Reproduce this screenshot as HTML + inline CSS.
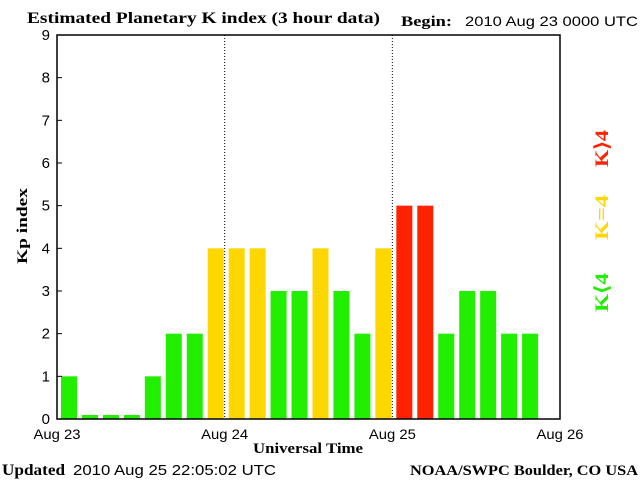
<!DOCTYPE html>
<html><head><meta charset="utf-8"><style>
html,body{margin:0;padding:0;background:#fff;}
svg{display:block;}
</style></head><body>
<svg id="chart" width="640" height="480" xmlns="http://www.w3.org/2000/svg">
<rect width="640" height="480" fill="#fff"/>
<text x="27" y="23" textLength="353" lengthAdjust="spacingAndGlyphs" font-family="Liberation Serif, serif" font-weight="bold" font-size="16">Estimated Planetary K index (3 hour data)</text>
<text x="401" y="26" textLength="51" lengthAdjust="spacingAndGlyphs" font-family="Liberation Serif, serif" font-weight="bold" font-size="15">Begin:</text>
<text x="465" y="26" textLength="173" lengthAdjust="spacingAndGlyphs" font-family="Liberation Sans, sans-serif" font-size="14">2010 Aug 23 0000 UTC</text>
<g id="bars"></g>
<g id="axes"></g>
<text transform="translate(27,226) rotate(-90)" text-anchor="middle" textLength="76" lengthAdjust="spacingAndGlyphs" font-family="Liberation Serif, serif" font-weight="bold" font-size="15">Kp index</text>
<text x="308" y="453" text-anchor="middle" textLength="110" lengthAdjust="spacingAndGlyphs" font-family="Liberation Serif, serif" font-weight="bold" font-size="15">Universal Time</text>
<text x="2" y="475" textLength="63" lengthAdjust="spacingAndGlyphs" font-family="Liberation Serif, serif" font-weight="bold" font-size="16">Updated</text>
<text x="73" y="475" textLength="203" lengthAdjust="spacingAndGlyphs" font-family="Liberation Sans, sans-serif" font-size="15">2010 Aug 25 22:05:02 UTC</text>
<text x="410" y="475" textLength="228" lengthAdjust="spacingAndGlyphs" font-family="Liberation Serif, serif" font-weight="bold" font-size="15">NOAA/SWPC Boulder, CO USA</text>
<text transform="translate(608,167) rotate(-90)" textLength="37" lengthAdjust="spacingAndGlyphs" fill="#ff2200" font-family="Liberation Serif, serif" font-weight="bold" font-size="19">K⟩4</text>
<text transform="translate(608,240) rotate(-90)" textLength="45" lengthAdjust="spacingAndGlyphs" fill="#ffd700" font-family="Liberation Serif, serif" font-weight="bold" font-size="19">K=4</text>
<text transform="translate(608,312) rotate(-90)" textLength="39" lengthAdjust="spacingAndGlyphs" fill="#22ee00" font-family="Liberation Serif, serif" font-weight="bold" font-size="19">K⟨4</text>
</svg>
<script>
const kpValues = [1,0,0,0,1,2,2,4, 4,4,3,3,4,3,2,4, 5,5,2,3,3,2,2];
const dayLabels = ["Aug 23","Aug 24","Aug 25","Aug 26"];
const yTicks = [0,1,2,3,4,5,6,7,8,9];

const NS = "http://www.w3.org/2000/svg";
const L = 57, R = 560, T = 35, B = 419;
const slotsTotal = 24;
const slotW = (R - L) / slotsTotal;
function xScale(i){ return L + i * slotW; }
function yScale(v){ return B - (v / 9) * (B - T); }
function mk(tag, attrs, parent){
  const e = document.createElementNS(NS, tag);
  for (const k in attrs) e.setAttribute(k, attrs[k]);
  parent.appendChild(e);
  return e;
}
const bars = document.getElementById('bars');
const axes = document.getElementById('axes');

kpValues.forEach((v, i) => {
  const color = v > 4 ? '#ff2200' : (v === 4 ? '#ffd700' : '#22ee00');
  const top = v === 0 ? B - 4 : yScale(v);
  const r = mk('rect', {x: xScale(i) + 4, y: top, width: 16, height: B - top, fill: color}, bars);
  
  
});

const frame = mk('rect', {x: L, y: T, width: R - L, height: B - T, fill: 'none', stroke: '#000', 'stroke-width': 1.5}, axes);



dayLabels.forEach((d, j) => {
  const x = xScale(j * 8);
  if (j > 0 && j < 3) {
    const ln = mk('line', {x1: x, y1: T, x2: x, y2: B, stroke: '#000', 'stroke-width': 1, 'stroke-dasharray': '1,2'}, axes);
    
    
  }
  const t = mk('text', {x: x, y: 439, 'text-anchor': 'middle', textLength: 47, lengthAdjust: 'spacingAndGlyphs', 'font-family': 'Liberation Sans, sans-serif', 'font-size': 14}, axes);
  t.textContent = d;
  
  
});

yTicks.forEach(v => {
  const y = yScale(v);
  const tk = mk('line', {x1: L, y1: y, x2: L + 5, y2: y, stroke: '#000', 'stroke-width': 1}, axes);
  
  
  const t = mk('text', {x: 50, y: y + 5, 'text-anchor': 'end', 'font-family': 'Liberation Sans, sans-serif', 'font-size': 15}, axes);
  t.textContent = v;
  
  
});
</script>
</body></html>
